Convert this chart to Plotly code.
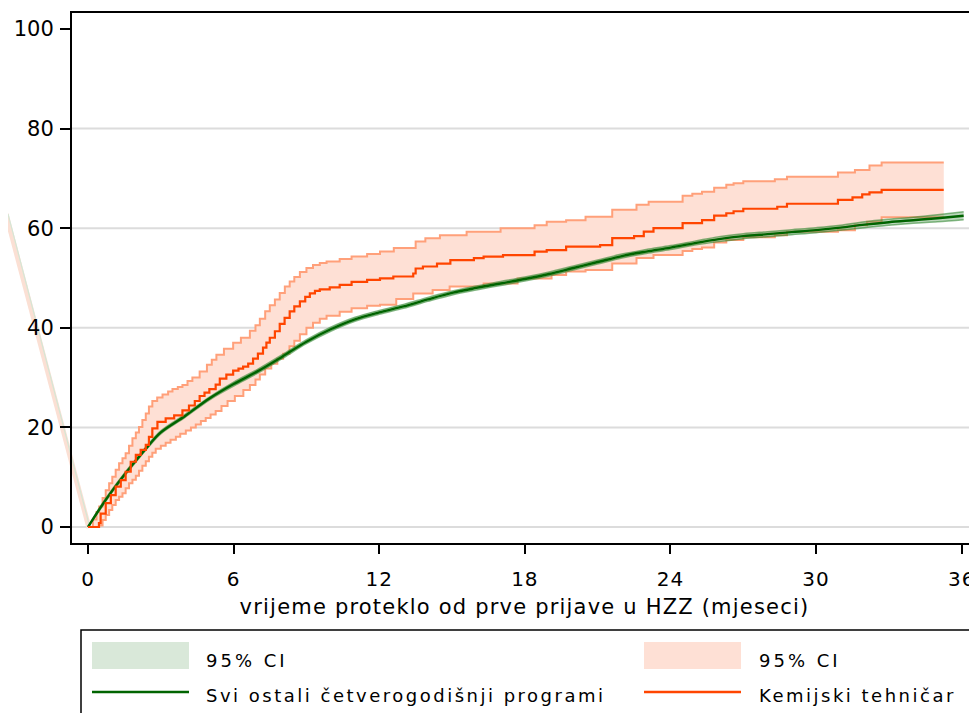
import plotly.graph_objects as go

# ---------------- data ----------------
# "Svi ostali četverogodišnji programi" – smooth cumulative curve with narrow 95% CI
OST_X = [0, 0.5, 1, 1.5, 2, 2.5, 3, 4, 5, 6, 7, 8, 9, 10, 11, 12, 13, 14, 15, 16, 17, 18,
         19, 20, 21, 22, 23, 24, 25, 26, 27, 28, 29, 30, 31, 32, 33, 34, 35, 36.08]
OST_Y = [0, 3.8, 7.3, 10.5, 13.5, 16.4, 19.0, 22.3, 25.8, 28.7, 31.3, 34.2, 37.2, 39.7, 41.7,
         43.1, 44.3, 45.7, 47.0, 48.0, 48.9, 49.8, 50.8, 52.0, 53.2, 54.4, 55.3, 56.1, 57.0,
         57.8, 58.4, 58.8, 59.2, 59.6, 60.1, 60.7, 61.2, 61.6, 62.0, 62.5]
OST_LO = [0, 3.5, 7.0, 10.2, 13.2, 16.1, 18.7, 22.0, 25.5, 28.3, 30.9, 33.8, 36.8, 39.3, 41.3,
          42.7, 43.9, 45.3, 46.6, 47.6, 48.5, 49.4, 50.4, 51.6, 52.8, 54.0, 54.9, 55.7, 56.6,
          57.3, 57.9, 58.3, 58.7, 59.1, 59.6, 60.1, 60.6, 61.0, 61.3, 61.7]
OST_HI = [0, 4.1, 7.6, 10.8, 13.8, 16.7, 19.3, 22.6, 26.1, 29.1, 31.7, 34.6, 37.6, 40.1, 42.1,
          43.5, 44.7, 46.1, 47.4, 48.4, 49.3, 50.2, 51.2, 52.4, 53.6, 54.8, 55.7, 56.5, 57.4,
          58.3, 58.9, 59.3, 59.7, 60.1, 60.6, 61.3, 61.8, 62.2, 62.7, 63.3]

# "Kemijski tehničar" – Kaplan-Meier style step curve with 95% CI
KEM_X = [0, 0.45, 0.52, 0.73, 0.94, 1.14, 1.35, 1.55, 1.76, 1.97, 2.17, 2.38, 2.51, 2.65, 2.86,
         3.2, 3.55, 3.89, 4.16, 4.4, 4.6, 4.8, 5.0, 5.26, 5.43, 5.7, 5.98, 6.2, 6.39, 6.6, 6.8,
         7.0, 7.21, 7.35, 7.49, 7.7, 7.9, 8.1, 8.31, 8.5, 8.73, 8.95, 9.14, 9.35, 9.55, 9.96,
         10.37, 10.86, 11.5, 12.03, 12.58, 13.4, 13.5, 13.8, 14.38, 14.93, 15.9, 16.3, 17.1,
         18.4, 18.9, 19.7, 21.1, 21.6, 22.5, 22.9, 23.3, 24.5, 25.3, 25.8, 26.3, 26.6, 27.0,
         28.4, 28.8, 30.9, 31.5, 31.9, 32.2, 32.7, 35.26]
KEM_Y = [0, 0.8, 2.7, 4.8, 6.4, 8.1, 9.4, 11.1, 13.1, 14.5, 15.5, 16.5, 18.1, 19.8, 21.1,
         21.8, 22.4, 23.4, 24.4, 25.3, 26.3, 27.0, 27.7, 28.6, 29.8, 30.6, 31.4, 31.8, 32.2,
         32.8, 33.8, 34.8, 36.0, 37.0, 38.0, 39.3, 40.8, 42.0, 43.3, 44.3, 45.3, 46.2, 46.9,
         47.4, 47.7, 48.1, 48.6, 49.2, 49.6, 49.9, 50.3, 50.9, 51.9, 52.3, 52.9, 53.6, 54.0,
         54.3, 54.6, 55.3, 55.6, 56.3, 56.6, 58.0, 58.4, 59.3, 60.0, 61.0, 61.6, 62.5, 63.0,
         63.4, 63.9, 64.3, 64.9, 65.7, 66.2, 66.8, 67.2, 67.7, 67.7]
KEM_HI_X = [0, 0.2, 0.35, 0.46, 0.6, 0.73, 0.87, 1.0, 1.14, 1.28, 1.42, 1.55, 1.69, 1.83, 1.97,
            2.1, 2.24, 2.38, 2.51, 2.65, 2.85, 3.07, 3.3, 3.48, 3.7, 3.89, 4.1, 4.3, 4.6, 4.9,
            5.1, 5.29, 5.6, 5.98, 6.3, 6.67, 6.9, 7.08, 7.3, 7.49, 7.7, 7.9, 8.11, 8.31, 8.5,
            8.73, 9.0, 9.27, 9.55, 9.83, 10.37, 10.86, 11.5, 12.03, 12.6, 13.5, 13.9, 14.5,
            15.6, 17.0, 18.4, 18.9, 19.7, 20.5, 21.6, 22.6, 23.1, 24.5, 24.9, 25.3, 25.8, 26.3,
            26.6, 27.0, 28.3, 28.8, 30.9, 31.6, 32.2, 32.7, 35.26]
KEM_HI_Y = [0, 1.5, 3.0, 4.1, 5.8, 7.4, 8.8, 10.1, 11.5, 12.8, 13.8, 14.8, 16.3, 17.8, 19.0,
            20.1, 21.5, 22.8, 24.2, 25.3, 26.0, 26.6, 27.2, 27.7, 28.1, 28.5, 29.3, 30.0, 31.2,
            32.6, 33.6, 34.6, 35.8, 37.0, 38.0, 39.4, 40.5, 41.8, 43.3, 44.5, 45.7, 47.0, 48.3,
            49.3, 50.2, 51.2, 52.0, 52.6, 53.0, 53.3, 53.8, 54.3, 54.8, 55.3, 56.0, 57.3, 58.0,
            58.6, 59.3, 60.0, 60.6, 61.3, 61.6, 62.3, 63.7, 64.7, 65.3, 66.5, 66.9, 67.3, 68.1,
            68.7, 69.0, 69.4, 69.8, 70.3, 71.2, 71.7, 72.6, 73.2, 73.2]
KEM_LO_X = [0, 0.46, 0.6, 0.73, 0.87, 1.0, 1.14, 1.28, 1.42, 1.55, 1.69, 1.83, 1.97, 2.1, 2.24,
            2.38, 2.51, 2.65, 2.79, 3.0, 3.2, 3.4, 3.62, 3.8, 4.03, 4.24, 4.44, 4.65, 4.85, 5.05,
            5.26, 5.5, 5.75, 6.05, 6.4, 6.67, 6.9, 7.08, 7.3, 7.55, 7.8, 8.04, 8.3, 8.5, 8.73,
            9.0, 9.27, 9.55, 9.83, 10.37, 10.86, 11.5, 12.03, 12.7, 13.4, 14.2, 14.9, 16.3,
            17.7, 19.1, 19.7, 20.5, 21.6, 22.6, 23.3, 24.5, 24.9, 25.3, 25.8, 26.3, 27.0, 28.3,
            28.8, 30.9, 31.6, 32.1, 32.7, 35.26]
KEM_LO_Y = [0, 0.3, 1.4, 2.4, 3.4, 4.4, 5.4, 6.1, 6.8, 7.8, 8.8, 9.5, 10.3, 11.3, 12.3, 13.2,
            14.1, 14.9, 15.7, 16.3, 16.9, 17.5, 18.1, 18.7, 19.4, 20.0, 20.6, 21.3, 21.9, 22.6,
            23.3, 24.3, 25.3, 26.3, 27.5, 28.5, 29.6, 30.6, 31.8, 32.8, 33.8, 34.8, 36.3, 37.4,
            38.7, 40.0, 41.0, 41.8, 42.4, 43.2, 43.9, 44.4, 44.6, 45.8, 46.9, 47.6, 48.3, 48.9,
            49.9, 50.6, 51.3, 51.6, 52.9, 54.0, 54.6, 55.4, 55.8, 56.1, 57.1, 57.6, 58.2, 58.6,
            59.3, 59.6, 60.6, 61.3, 62.2, 62.3]

X_TICKS = [0, 6, 12, 18, 24, 30, 36]
Y_TICKS = [0, 20, 40, 60, 80, 100]
GRID_Y = [0, 20, 40, 60, 80]

X_TITLE = "vrijeme proteklo od prve prijave u HZZ (mjeseci)"
NAME_OST = "Svi ostali četverogodišnji programi"
NAME_KEM = "Kemijski tehničar"
NAME_CI = "95% CI"

# ---------------- styling ----------------
# the page body has an 8px default margin, so the figure is drawn 8px smaller
OFF = 8
W, H = 977 - OFF, 713 - OFF
ML, MR, MT = 72 - OFF, 0, 13 - OFF
MB = H - (543 - OFF)
PW, PH = W - ML - MR, H - MT - MB
FONT = "DejaVu Sans"

GREEN = "#006400"
GREEN_FILL = "#d9e8d9"
GREEN_EDGE = "rgba(40,130,40,0.55)"
ORANGE = "#ff4500"
ORANGE_FILL = "#fee0d5"
ORANGE_EDGE = "#ffa07a"


def pxx(p):
    """reference-window pixel x -> paper x"""
    return (p - OFF - ML) / PW


def pxy(p):
    """reference-window pixel y -> paper y"""
    return (H - MB - (p - OFF)) / PH


def spaced(txt, sp):
    return '<span style="letter-spacing:%spx">%s</span>' % (sp, txt)


fig = go.Figure()

# Kemijski CI band
fig.add_trace(go.Scatter(x=KEM_LO_X, y=KEM_LO_Y, mode="lines", line=dict(width=0, shape="hv"),
                         showlegend=False, hoverinfo="skip"))
fig.add_trace(go.Scatter(x=KEM_HI_X, y=KEM_HI_Y, mode="lines", line=dict(width=0, shape="hv"),
                         fill="tonexty", fillcolor=ORANGE_FILL, showlegend=False, hoverinfo="skip"))
fig.add_trace(go.Scatter(x=KEM_LO_X, y=KEM_LO_Y, mode="lines",
                         line=dict(color=ORANGE_EDGE, width=2, shape="hv"), showlegend=False))
fig.add_trace(go.Scatter(x=KEM_HI_X, y=KEM_HI_Y, mode="lines",
                         line=dict(color=ORANGE_EDGE, width=2, shape="hv"), showlegend=False))

# Ostali CI band
fig.add_trace(go.Scatter(x=OST_X, y=OST_LO, mode="lines", line=dict(width=0, shape="spline"),
                         showlegend=False, hoverinfo="skip"))
fig.add_trace(go.Scatter(x=OST_X, y=OST_HI, mode="lines", line=dict(width=0, shape="spline"),
                         fill="tonexty", fillcolor="rgba(60,140,60,0.35)", showlegend=False,
                         hoverinfo="skip"))
fig.add_trace(go.Scatter(x=OST_X, y=OST_LO, mode="lines",
                         line=dict(color=GREEN_EDGE, width=1.5, shape="spline"), showlegend=False))
fig.add_trace(go.Scatter(x=OST_X, y=OST_HI, mode="lines",
                         line=dict(color=GREEN_EDGE, width=1.5, shape="spline"), showlegend=False))

# main curves
fig.add_trace(go.Scatter(x=OST_X, y=OST_Y, mode="lines", name=NAME_OST,
                         line=dict(color=GREEN, width=2.4, shape="spline"), showlegend=False))
fig.add_trace(go.Scatter(x=KEM_X, y=KEM_Y, mode="lines", name=NAME_KEM,
                         line=dict(color=ORANGE, width=2.2, shape="hv"), showlegend=False))

# gridlines (none at 100 in the reference)
for g in GRID_Y:
    fig.add_shape(type="line", xref="paper", x0=0, x1=1, yref="y", y0=g, y1=g,
                  line=dict(color="#dcdcdc", width=2), layer="below")

# stray rendering artefact at the left edge of the reference
fig.add_shape(type="line", xref="paper", yref="paper", x0=pxx(89), y0=pxy(528),
              x1=pxx(6), y1=pxy(214), line=dict(color="#fbe0d4", width=5), layer="below")
fig.add_shape(type="line", xref="paper", yref="paper", x0=pxx(90), y0=pxy(528),
              x1=pxx(8), y1=pxy(214), line=dict(color="#d5e6d5", width=1.2), layer="below")

# ---------------- legend drawn as in the reference (large swatches) ----------------
fig.add_shape(type="rect", xref="paper", yref="paper", x0=pxx(81), x1=pxx(970),
              y0=pxy(630), y1=pxy(740), line=dict(color="black", width=1.5),
              fillcolor="white")
fig.add_shape(type="rect", xref="paper", yref="paper", x0=pxx(92), x1=pxx(189),
              y0=pxy(642), y1=pxy(669), line=dict(width=0), fillcolor=GREEN_FILL)
fig.add_shape(type="rect", xref="paper", yref="paper", x0=pxx(644), x1=pxx(741),
              y0=pxy(642), y1=pxy(669), line=dict(width=0), fillcolor=ORANGE_FILL)
fig.add_shape(type="line", xref="paper", yref="paper", x0=pxx(92), x1=pxx(189),
              y0=pxy(692), y1=pxy(692), line=dict(color=GREEN, width=2.5))
fig.add_shape(type="line", xref="paper", yref="paper", x0=pxx(644), x1=pxx(741),
              y0=pxy(692), y1=pxy(692), line=dict(color=ORANGE, width=2.5))

leg_items = [(204, 660, NAME_CI, 3.0), (757, 660, NAME_CI, 3.0),
             (204, 695, NAME_OST, 2.5), (757, 695, NAME_KEM, 2.5)]
for lx, ly, txt, sp in leg_items:
    fig.add_annotation(x=pxx(lx), y=pxy(ly), xref="paper", yref="paper", text=spaced(txt, sp),
                       showarrow=False, xanchor="left", yanchor="middle",
                       font=dict(family=FONT, size=18, color="black"))

fig.update_layout(
    width=W, height=H,
    margin=dict(l=ML, r=MR, t=MT, b=MB, autoexpand=False),
    paper_bgcolor="white", plot_bgcolor="white",
    showlegend=False,
    font=dict(family=FONT, color="black"),
)
fig.update_xaxes(
    range=[-0.66, 36.63], tickvals=X_TICKS, ticktext=[spaced(str(v), 1) for v in X_TICKS],
    showgrid=False, zeroline=False, showline=True, linecolor="black", linewidth=2, mirror=True,
    ticks="outside", ticklen=9, tickwidth=1.5, tickcolor="black",
    tickfont=dict(family=FONT, size=20), ticklabelstandoff=8,
    title=dict(text=spaced(X_TITLE, 1.2), font=dict(family=FONT, size=21), standoff=9),
)
fig.update_yaxes(
    range=[-3.21, 103.2], tickvals=Y_TICKS, ticktext=[str(v) for v in Y_TICKS],
    showgrid=False, zeroline=False, showline=True, linecolor="black", linewidth=2, mirror=False,
    ticks="outside", ticklen=10, tickwidth=1.5, tickcolor="black",
    tickfont=dict(family=FONT, size=21), ticklabelstandoff=2,
)

fig.write_html("out.html")
